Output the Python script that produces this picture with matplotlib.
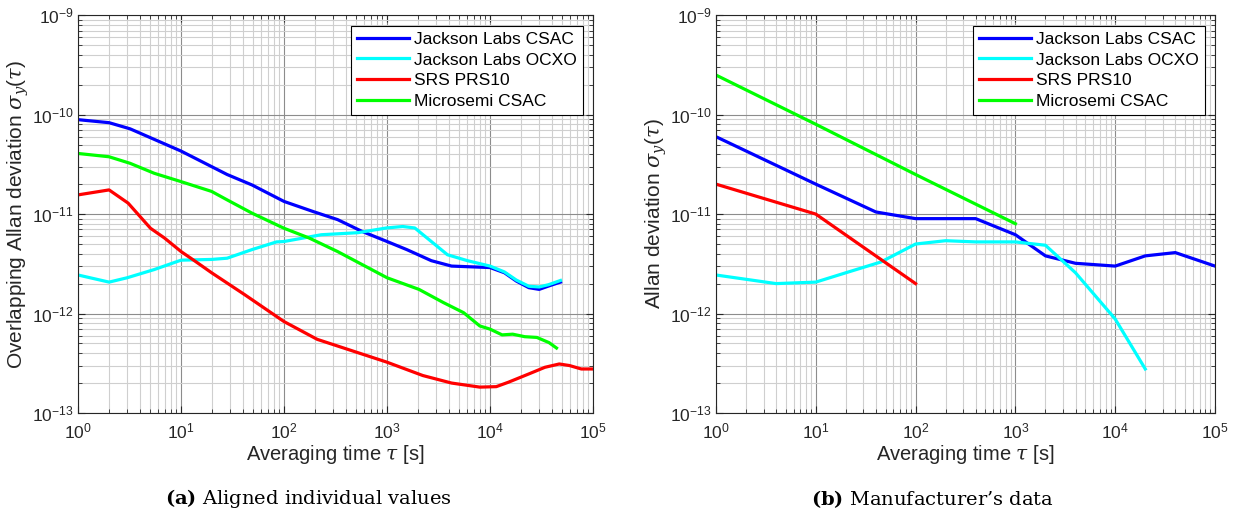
import numpy as np
import matplotlib.pyplot as plt
from matplotlib.ticker import (LogLocator, LogFormatterSciNotation, NullFormatter,
                               FixedLocator)

plt.rcParams['font.family'] = ['Liberation Sans', 'DejaVu Sans']
plt.rcParams['mathtext.fontset'] = 'custom'
plt.rcParams['mathtext.rm'] = 'Liberation Sans'
plt.rcParams['mathtext.it'] = 'DejaVu Serif:italic'
plt.rcParams['mathtext.bf'] = 'DejaVu Serif:bold'

names = ['Jackson Labs CSAC', 'Jackson Labs OCXO', 'SRS PRS10', 'Microsemi CSAC']
colors = ['#0000ff', '#00ffff', '#ff0000', '#00ff00']
x_ticks = [1e0, 1e1, 1e2, 1e3, 1e4, 1e5]
y_ticks = [1e-13, 1e-12, 1e-11, 1e-10, 1e-9]

# (a) aligned individual values
a_csac_t = [1, 2, 3.2, 10, 28, 49, 100, 192, 331, 571, 1000, 1550, 2690, 4230, 10000,
            13800, 18000, 23800, 30000, 37000, 48300]
a_csac_y = [8.9e-11, 8.3e-11, 7.2e-11, 4.3e-11, 2.5e-11, 1.96e-11, 1.34e-11, 1.06e-11,
            8.8e-12, 6.7e-12, 5.3e-12, 4.4e-12, 3.4e-12, 3.0e-12, 2.9e-12,
            2.57e-12, 2.12e-12, 1.82e-12, 1.75e-12, 1.89e-12, 2.07e-12]
a_ocxo_t = [1, 2, 3, 5.5, 10, 19.8, 28, 49, 84.5, 100, 230, 521, 985, 1420, 1860, 2690,
            3860, 6040, 10000, 13800, 18000, 23800, 30000, 37000, 48300]
a_ocxo_y = [2.44e-12, 2.07e-12, 2.29e-12, 2.77e-12, 3.44e-12, 3.5e-12, 3.6e-12, 4.4e-12,
            5.25e-12, 5.3e-12, 6.2e-12, 6.5e-12, 7.25e-12, 7.5e-12, 7.25e-12, 5.3e-12,
            3.9e-12, 3.4e-12, 3.0e-12, 2.62e-12, 2.17e-12, 1.88e-12, 1.85e-12, 1.95e-12,
            2.15e-12]
a_prs_t = [1, 2, 3.06, 5.05, 6.9, 10, 13.7, 19.8, 41, 100, 210, 434, 1000, 2225, 4230,
           7950, 11500, 15100, 23800, 34100, 47000, 59000, 77000, 100000]
a_prs_y = [1.56e-11, 1.75e-11, 1.29e-11, 7.2e-12, 5.75e-12, 4.2e-12, 3.36e-12, 2.57e-12,
           1.56e-12, 8.3e-13, 5.5e-13, 4.3e-13, 3.24e-13, 2.38e-13, 2.0e-13,
           1.82e-13, 1.84e-13, 2.04e-13, 2.47e-13, 2.88e-13, 3.11e-13, 3.0e-13, 2.77e-13,
           2.77e-13]
a_msc_t = [1, 2, 3.2, 5.5, 10, 19.8, 28, 49, 100, 175, 331, 1000, 2040, 3520, 5540, 7950,
           10000, 13100, 16600, 21700, 28500, 37400, 44200]
a_msc_y = [4.07e-11, 3.77e-11, 3.24e-11, 2.57e-11, 2.12e-11, 1.69e-11, 1.39e-11, 1.02e-11,
           7.2e-12, 5.75e-12, 4.2e-12, 2.29e-12, 1.75e-12, 1.29e-12, 1.02e-12, 7.5e-13,
           6.97e-13, 6.1e-13, 6.2e-13, 5.85e-13, 5.75e-13, 5.1e-13, 4.5e-13]

# (b) manufacturer's data
b_csac_t = [1, 10, 40, 100, 400, 1000, 2000, 4000, 10000, 20000, 40000, 100000]
b_csac_y = [6e-11, 2e-11, 1.05e-11, 9e-12, 9e-12, 6.2e-12, 3.8e-12, 3.2e-12, 3.0e-12,
            3.8e-12, 4.1e-12, 3.0e-12]
b_ocxo_t = [1, 4, 10, 20, 45, 100, 200, 400, 1000, 2000, 4000, 10000, 20000]
b_ocxo_y = [2.44e-12, 2.0e-12, 2.07e-12, 2.57e-12, 3.3e-12, 5.0e-12, 5.4e-12, 5.25e-12,
            5.25e-12, 4.86e-12, 2.57e-12, 8.8e-13, 2.77e-13]
b_prs_t = [1, 10, 100]
b_prs_y = [2e-11, 1e-11, 2e-12]
b_msc_t = [1, 10, 100, 1000]
b_msc_y = [2.5e-10, 8e-11, 2.5e-11, 8e-12]

fig = plt.figure(figsize=(12.43, 5.2), dpi=100)
ax1 = fig.add_axes([0.0628, 0.2058, 0.4143, 0.765])
ax2 = fig.add_axes([0.576, 0.2058, 0.4015, 0.765])

panels = [
    (ax1, [(a_csac_t, a_csac_y), (a_ocxo_t, a_ocxo_y), (a_prs_t, a_prs_y), (a_msc_t, a_msc_y)],
     r'Overlapping Allan deviation $\sigma_y(\tau)$'),
    (ax2, [(b_csac_t, b_csac_y), (b_ocxo_t, b_ocxo_y), (b_prs_t, b_prs_y), (b_msc_t, b_msc_y)],
     r'Allan deviation $\sigma_y(\tau)$'),
]

for ax, series, ylab in panels:
    for (t, y), name, c in zip(series, names, colors):
        ax.plot(t, y, color=c, lw=2.3, label=name)
    ax.set_xscale('log')
    ax.set_yscale('log')
    ax.set_xlim(1, 1e5)
    ax.set_ylim(1e-13, 1e-9)
    ax.xaxis.set_major_locator(FixedLocator(x_ticks))
    ax.yaxis.set_major_locator(FixedLocator(y_ticks))
    for axis in (ax.xaxis, ax.yaxis):
        axis.set_minor_locator(LogLocator(base=10, subs=np.arange(2, 10), numticks=20))
        axis.set_major_formatter(LogFormatterSciNotation())
        axis.set_minor_formatter(NullFormatter())
    ax.grid(which='major', color='#8c8c8c', lw=0.8)
    ax.grid(which='minor', color='#cfcfcf', lw=0.8)
    ax.tick_params(which='both', direction='in', top=True, right=True, labelsize=12.5,
                   colors='#262626')
    ax.tick_params(axis='x', which='major', pad=6)
    ax.tick_params(axis='y', which='major', pad=3)
    ax.tick_params(which='major', length=5)
    ax.tick_params(which='minor', length=3)
    for s in ax.spines.values():
        s.set_color('#262626')
    ax.set_xlabel(r'Averaging time $\tau$ [s]', fontsize=14.5, color='#262626', labelpad=1)
    ax.set_ylabel(ylab, fontsize=15, color='#262626', labelpad=1)
    leg = ax.legend(loc='upper right', fontsize=12.5, fancybox=False, framealpha=1,
                    edgecolor='black', handlelength=3.0, borderpad=0.35,
                    labelspacing=0.32, handletextpad=0.25, borderaxespad=0.6)
    leg.get_frame().set_linewidth(0.8)

fig.text(308 / 1243, 21 / 520, r'$\bf{(a)}$ Aligned individual values',
         ha='center', va='center', fontsize=14, family='DejaVu Serif')
fig.text(932 / 1243, 21 / 520, r"$\bf{(b)}$ Manufacturer’s data",
         ha='center', va='center', fontsize=14, family='DejaVu Serif')

fig.savefig('out.png', dpi=100)
